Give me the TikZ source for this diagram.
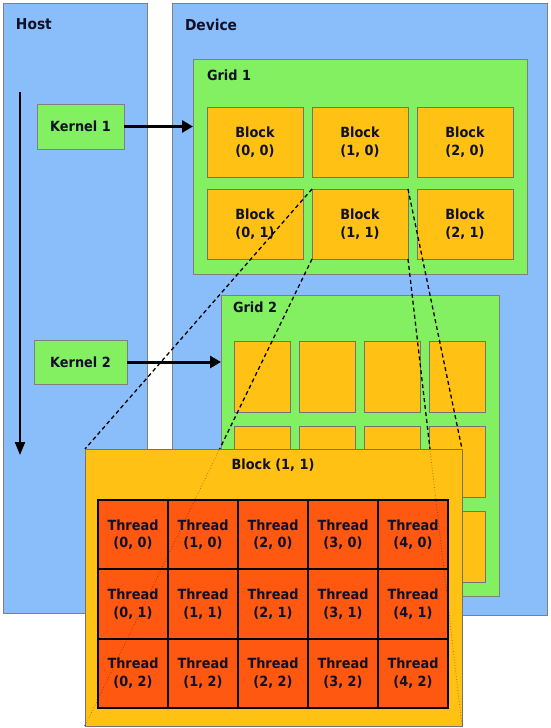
\documentclass[tikz,border=0pt]{standalone}
\usepackage{fontspec}
\setmainfont{DejaVu Sans}[FakeStretch=0.92]
\usetikzlibrary{arrows.meta}
\definecolor{panelblue}{RGB}{138,190,250}
\definecolor{gridgreen}{RGB}{130,240,96}
\definecolor{blockorange}{RGB}{255,194,20}
\definecolor{threadred}{RGB}{255,88,16}
\definecolor{txt}{RGB}{16,16,40}
\definecolor{edge}{RGB}{128,128,128}
\begin{document}
\begin{tikzpicture}[x=1pt,y=-1pt,
  every node/.style={font=\bfseries\fontsize{14}{17.5}\selectfont, text=txt, inner sep=0pt, outer sep=0pt},
  panel/.style={draw=edge, line width=0.8pt, fill=panelblue, anchor=north west},
  gridbox/.style={draw=edge, line width=0.8pt, fill=gridgreen, anchor=north west},
  blockbox/.style={draw=edge!90!black, line width=0.8pt, fill=blockorange, anchor=north west, align=center},
  kernelbox/.style={draw=edge, line width=0.8pt, fill=gridgreen, anchor=north west},
  threadbox/.style={draw=black, line width=2pt, fill=threadred, anchor=north west, align=center,
                    minimum width=70pt, minimum height=69.33pt},
  title/.style={font=\bfseries\fontsize{15}{17}\selectfont, anchor=west},
  label/.style={anchor=west},
  launch/.style={line width=3pt, -{Triangle[length=11pt,width=12pt]}},
  timeline/.style={line width=2pt, -{Triangle[length=13pt,width=10pt]}},
  zoomline/.style={line width=1.3pt, dash pattern=on 4pt off 3pt, black},
  faintline/.style={line width=0.8pt, dotted, black, opacity=0.35}
]
\useasboundingbox (0,0) rectangle (550,728);
\fill[white] (0,0) rectangle (550,728);

% panels
\node[panel, minimum width=144pt, minimum height=610pt] (host) at (3,3) {};
\node[panel, minimum width=375pt, minimum height=612pt] (device) at (172,3) {};
\node[title] (hostlbl) at (16,24) {Host};
\node[title] (devlbl) at (185,25) {Device};

% grid 1
\node[gridbox, minimum width=334pt, minimum height=215pt] (g1) at (193,59) {};
\node[label] (g1lbl) at (207,75) {Grid 1};
\foreach \i in {0,1,2}
  \foreach \j in {0,1}
    \node[blockbox, minimum width=96pt, minimum height=70pt] (g1-\i-\j)
      at ({207+105*\i},{107+82*\j}) {Block\\(\i, \j)};

% grid 2
\node[gridbox, minimum width=278pt, minimum height=301pt] (g2) at (221,295) {};
\node[label] (g2lbl) at (233,307) {Grid 2};
\foreach \i in {0,1,2,3}
  \foreach \j in {0,1,2}
    \node[blockbox, minimum width=56pt, minimum height=71pt] (g2-\i-\j)
      at ({234+65*\i},{341+85*\j}) {};

% kernels
\node[kernelbox, minimum width=87pt, minimum height=45pt] (k1) at (37,104) {Kernel 1};
\node[kernelbox, minimum width=93pt, minimum height=44pt] (k2) at (34,340) {Kernel 2};
\draw[launch] (k1.east) -- (k1.east -| g1.west);
\draw[launch] (k2.east) -- (k2.east -| g2.west);

% time line
\coordinate (tstart) at (20,92);
\coordinate (tend) at (20,455);
\draw[timeline] (tstart) -- (tend);

% big block corners (for zoom lines)
\coordinate (bbnw) at (85,449);
\coordinate (bbne) at (462,449);
\coordinate (bbsw) at (85,726);
\coordinate (bbse) at (462,726);

\draw[zoomline] (g1-1-1.north west) -- (bbnw);
\draw[zoomline] (g1-1-1.south west) -- (bbsw);
\draw[zoomline] (g1-1-1.north east) -- (bbne);
\draw[zoomline] (g1-1-1.south east) -- (bbse);

% big block
\node[blockbox, minimum width=377pt, minimum height=277pt] (bb) at (bbnw) {};
\node (bblbl) at (273,465) {Block (1, 1)};
\foreach \i in {0,...,4}
  \foreach \j in {0,1,2}
    \node[threadbox] (t-\i-\j) at ({98+70*\i},{500+69.33*\j}) {Thread\\(\i, \j)};

% faint continuation of zoom lines over the block
\begin{scope}
  \clip (bb.north west) rectangle (bb.south east);
  \draw[faintline] (g1-1-1.north west) -- (bbnw);
  \draw[faintline] (g1-1-1.south west) -- (bbsw);
  \draw[faintline] (g1-1-1.north east) -- (bbne);
  \draw[faintline] (g1-1-1.south east) -- (bbse);
\end{scope}
\end{tikzpicture}
\end{document}
